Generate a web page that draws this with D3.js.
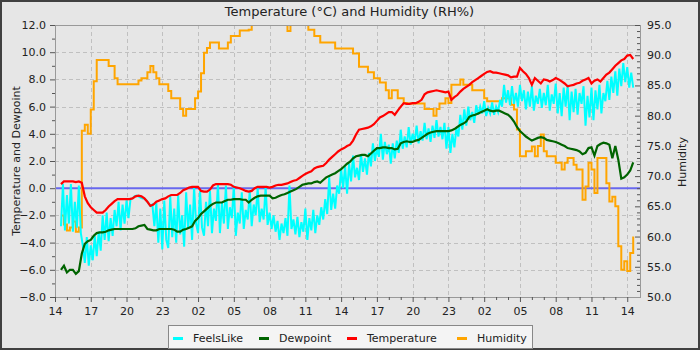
<!DOCTYPE html>
<html><head><meta charset="utf-8">
<script src="https://cdn.jsdelivr.net/npm/d3@7"></script>
<style>
html,body{margin:0;padding:0;background:#e6e6e6;}
svg{display:block;}
</style></head><body>
<svg id="c" width="700" height="350"></svg>
<script>
const chartTitle = "Temperature (°C) and Humidity (RH%)";
const leftAxisTitle = "Temperature and Dewpoint";
const rightAxisTitle = "Humidity";
const xTickHours = [0,3,6,9,12,15,18,21,24,27,30,33,36,39,42,45,48];
const xTickLabels = ["14","17","20","23","02","05","08","11","14","17","20","23","02","05","08","11","14"];
const leftTicks = [-8,-6,-4,-2,0,2,4,6,8,10,12];
const rightTicks = [50,55,60,65,70,75,80,85,90,95];
const seriesNames = ["FeelsLike","Dewpoint","Temperature","Humidity"];
const seriesColors = ["#00ffff","#006400","#ff0000","#ffa500"];

// samples every 15 minutes starting 0.5 h after 14:00
const sampleStartHour = 0.5, sampleStepHours = 0.25;
const temperature = [
 0.3,0.5,0.5,0.5, 0.5,0.45,0.5,0.4, -0.6,-1.1,-1.4,-1.6, -1.8,-1.8,-1.8,-1.6,
 -1.35,-1.15,-0.95,-0.8, -0.8,-0.8,-0.8,-0.8, -0.75,-0.6,-0.55,-0.6, -0.75,-1.0,-1.3,-1.2,
 -1.0,-0.9,-0.8,-0.75, -0.6,-0.5,-0.5,-0.5, -0.35,-0.15,-0.05,0.05, 0.1,0.1,0.1,-0.2,
 -0.25,-0.25,-0.1,0.2, 0.3,0.3,0.3,0.3, 0.3,0.25,0.1,0.05, 0.0,-0.1,-0.2,-0.25,
 -0.2,0.0,0.1,0.1, 0.1,0.1,0.05,0.1, 0.2,0.25,0.25,0.3, 0.35,0.45,0.55,0.6,
 0.75,0.9,1.05,1.15, 1.25,1.45,1.55,1.6, 1.65,1.85,2.1,2.3, 2.5,2.7,2.85,2.95,
 3.1,3.2,3.5,3.95, 4.3,4.35,4.4,4.45, 4.55,4.7,4.95,5.2, 5.3,5.45,5.6,5.6,
 5.4,5.7,6.0,6.25, 6.2,6.2,6.25,6.25, 6.35,6.5,6.9,7.05, 7.1,7.15,7.2,7.15,
 7.1,7.05,7.1,6.5, 6.7,6.85,7.1,7.3, 7.45,7.6,7.8,7.95, 8.1,8.25,8.4,8.55,
 8.6,8.5,8.5,8.45, 8.4,8.35,8.3,8.15, 8.2,8.2,8.85,8.6, 8.4,8.1,7.6,8.1,
 7.9,7.7,8.0,7.95, 7.85,7.95,8.1,8.0, 7.85,7.7,7.5,7.55, 7.6,7.7,7.75,7.9,
 8.0,8.1,7.7,7.9, 8.0,7.85,8.1,8.35, 8.5,8.75,9.0,9.2, 9.4,9.5,9.75,9.8,
 9.5];
const dewpoint = [
 -6.0,-5.7,-6.2,-6.0, -6.0,-6.3,-6.1,-4.8, -4.1,-3.9,-3.8,-3.5, -3.3,-3.25,-3.25,-3.2,
 -3.1,-3.05,-3.0,-3.0, -3.0,-3.0,-3.0,-3.0, -3.0,-2.95,-2.8,-2.75, -2.7,-3.0,-3.05,-3.1,
 -3.1,-3.0,-3.0,-3.0, -3.0,-3.0,-3.05,-3.2, -3.2,-3.05,-3.0,-2.9, -2.8,-2.4,-2.2,-1.9,
 -1.7,-1.5,-1.3,-1.15, -1.05,-1.05,-1.05,-0.95, -0.85,-0.85,-0.8,-0.8, -0.8,-0.85,-0.85,-1.05,
 -0.85,-0.7,-0.6,-0.55, -0.55,-0.55,-0.55,-0.75, -0.7,-0.6,-0.5,-0.45, -0.35,-0.25,-0.15,-0.05,
 0.1,0.25,0.3,0.35, 0.35,0.45,0.5,0.4, 0.6,0.8,0.9,1.0, 1.1,1.25,1.4,1.6,
 1.8,1.95,2.2,2.35, 2.4,2.45,2.45,2.35, 2.55,2.75,2.95,2.95, 3.0,3.0,2.95,2.95,
 2.85,2.9,3.3,3.4, 3.45,3.4,3.4,3.5, 3.55,3.7,3.85,4.0, 4.1,4.15,4.2,4.2,
 4.2,4.2,4.2,4.25, 4.35,4.5,4.65,4.75, 4.9,5.25,5.35,5.4, 5.5,5.6,5.7,5.8,
 5.7,5.65,5.7,5.7, 5.6,5.5,5.4,5.2, 4.9,4.5,4.2,4.0, 3.8,3.65,3.5,3.6,
 3.7,3.75,3.7,3.55, 3.5,3.45,3.4,3.3, 3.2,3.1,2.95,2.9, 2.85,2.8,2.7,2.5,
 2.6,2.95,3.0,2.4, 3.1,3.25,3.35,3.3, 3.2,2.2,3.1,2.1, 0.7,0.8,1.0,1.3,
 1.9];
const humidity = [
 63.5,62.0,61.0,61.5, 62.5,60.8,61.5,77.5, 78.5,77.0,81.0,85.7, 89.2,89.2,89.2,89.2,
 88.2,88.2,86.2,85.2, 85.2,85.2,85.2,85.2, 85.2,85.2,85.8,86.2, 86.2,87.2,88.2,87.2,
 86.2,85.2,85.2,85.2, 84.1,82.9,82.9,82.9, 81.1,80.0,81.1,81.1, 81.1,82.9,84.0,87.0,
 90.4,91.2,92.1,92.1, 92.1,91.1,91.1,91.1, 92.1,93.2,93.2,93.2, 94.1,94.1,94.1,94.2,
 96.5,96.5,96.5,96.5, 96.5,96.5,96.5,96.5, 96.5,96.5,96.5,96.5, 94.0,96.5,96.5,96.5,
 96.5,96.5,96.5,94.2, 94.2,93.2,93.2,92.1, 92.1,92.1,92.1,92.1, 91.1,91.1,91.1,91.1,
 91.1,91.1,90.3,90.3, 88.1,88.1,88.1,87.2, 87.2,86.2,86.2,85.5, 85.5,84.2,82.9,84.2,
 84.2,82.9,82.9,82.1, 82.0,82.0,82.0,82.0, 82.0,82.0,81.1,81.1, 81.1,80.0,81.1,82.0,
 82.0,82.9,82.1,85.1, 85.1,85.1,86.0,85.1, 85.1,85.1,84.2,84.2, 84.2,84.2,82.9,82.4,
 82.4,82.4,82.4,82.4, 82.9,82.9,82.9,81.8, 81.0,77.7,73.3,73.3, 74.1,74.1,74.9,73.3,
 75.0,76.9,74.1,73.3, 73.3,73.3,72.2,72.2, 71.1,72.2,73.0,73.0, 71.9,71.1,71.1,66.1,
 68.3,72.2,71.1,67.2, 73.0,73.0,73.0,68.8, 65.8,66.6,65.0,58.4, 54.5,55.9,54.3,57.3,
 60.0];

// FeelsLike samples every 10 minutes starting 0.5 h after 14:00
const feelsStartHour = 0.5, feelsStepHours = 1/6;
const feelsLike = [
 -2.8,0.3,-3.1,-0.5,-2.6,0.3,   -3.2,-1.0,-2.9,0.2,-3.3,-4.2,  -5.5,-3.6,-5.7,-4.2,-5.3,-3.5,
 -5.0,-3.2,-4.6,-2.0,-3.8,-1.8, -3.9,-2.2,-3.5,-1.6,-2.8,-1.0, -3.1,-1.2,-2.6,-0.9,-2.2,-0.8,
 -0.75,-0.6,-0.55,-0.6,-0.7,-0.75, -0.75,-0.9,-1.1,-1.3,-1.2,-2.8, -1.1,-4.0,-1.5,-4.5,-0.9,-3.8,
 -4.4,-0.6,-3.6,-1.5,-4.0,-0.5, -3.4,-2.0,-4.3,-0.3,-3.0,-1.2, -3.8,0.1,-2.6,-3.3,-0.2,-2.9,
 -3.5,-1.0,-2.8,-0.2,-3.3,-1.5, -2.4,0.3,-3.3,-1.1,-2.6,0.2,  -3.0,-1.4,-2.2,0.2,-3.5,-1.8,
 -2.6,-0.3,-3.0,-1.6,-2.3,-0.2, -2.8,-1.2,-2.0,0.0,-2.5,-1.5, -2.3,0.1,-2.7,-1.8,-3.0,-2.0,
 -3.2,-2.4,-3.8,-2.6,-3.3,-2.2, -3.5,0.2,-3.0,-2.3,-3.4,-2.1, -3.6,-2.5,-3.2,-1.5,-3.8,-2.2,
 -3.1,-1.6,-3.3,-2.0,-2.7,-1.4, -2.3,-0.8,-1.9,0.8,-1.6,-0.4,  -1.5,0.2,-0.4,1.4,0.0,1.6,
 -0.4,1.8,0.5,2.4,0.8,1.5,      0.6,2.5,1.2,2.2,1.0,2.6,       1.6,3.3,2.0,3.0,2.3,4.0,
 2.1,3.4,2.5,3.2,1.8,3.3,       2.2,3.5,2.6,4.3,2.9,3.8,       3.0,4.5,3.2,4.0,3.4,4.6,
 3.3,4.2,3.5,4.8,3.6,4.4,       3.4,4.6,3.7,5.0,3.8,4.5,       3.6,4.8,2.9,4.5,2.6,4.0,
 3.0,4.4,3.8,5.4,4.3,5.8,       4.6,6.0,5.0,5.6,4.8,6.1,       5.4,6.0,5.5,6.4,5.3,5.9,
 5.5,6.3,5.4,6.0,5.6,6.5,       6.0,7.6,6.3,7.2,6.1,7.5,       6.2,7.0,6.0,7.6,6.4,7.2,
 5.8,7.1,6.0,7.5,5.7,6.8,       6.2,7.3,5.9,7.0,6.1,7.6,       5.7,6.9,6.2,7.7,5.5,7.0,
 5.3,7.4,6.0,7.6,5.0,7.1,       5.6,7.3,5.4,7.0,6.2,7.5,       4.6,6.8,5.2,7.4,5.0,7.2,
 5.8,7.6,5.5,7.0,6.4,7.9,       6.5,8.2,7.0,8.6,6.8,8.8,       7.5,9.2,7.8,8.9,7.4,8.5,
 7.4];

const W = 700, H = 350;
const M = {left:55, right:640, top:25, bottom:297};
const FONT = "'DejaVu Sans', Verdana, sans-serif";
const svg = d3.select("#c");

svg.append("rect").attr("x",1).attr("y",1).attr("width",W-2).attr("height",H-2)
  .attr("fill","#e6e6e6").attr("stroke","#404040").attr("stroke-width",2);

const x = d3.scaleLinear().domain([0,49.07]).range([M.left,M.right]);
const yL = d3.scaleLinear().domain([-8,12]).range([M.bottom,M.top]);
const yR = d3.scaleLinear().domain([50,95]).range([M.bottom,M.top]);

svg.append("defs").append("clipPath").attr("id","clip").append("rect")
  .attr("x",M.left).attr("y",M.top).attr("width",M.right-M.left).attr("height",M.bottom-M.top);

// grid
const grid = svg.append("g").attr("stroke","#c0c0c0").attr("stroke-width",1).attr("stroke-dasharray","4,3");
grid.selectAll("line.v").data(xTickHours.slice(1)).enter().append("line")
  .attr("x1",d=>Math.round(x(d))+0.5).attr("x2",d=>Math.round(x(d))+0.5)
  .attr("y1",M.top).attr("y2",M.bottom);
grid.selectAll("line.h").data(leftTicks.slice(1,-1)).enter().append("line")
  .attr("y1",d=>Math.round(yL(d))+0.5).attr("y2",d=>Math.round(yL(d))+0.5)
  .attr("x1",M.left).attr("x2",M.right);

// zero marker
svg.append("line").attr("x1",M.left).attr("x2",M.right)
  .attr("y1",yL(0)).attr("y2",yL(0)).attr("stroke","#6868ee").attr("stroke-width",2);

const plot = svg.append("g").attr("clip-path","url(#clip)");
function lineFor(start, step, scale, curve){
  return d3.line().x((d,i)=>x(start+i*step)).y(d=>scale(d)).curve(curve||d3.curveLinear);
}
plot.append("path").datum(humidity).attr("fill","none").attr("stroke",seriesColors[3]).attr("stroke-width",2)
  .attr("d",lineFor(sampleStartHour,sampleStepHours,yR,d3.curveStepAfter));
plot.append("path").datum(feelsLike).attr("fill","none").attr("stroke",seriesColors[0]).attr("stroke-width",2)
  .attr("d",lineFor(feelsStartHour,feelsStepHours,yL));
plot.append("path").datum(dewpoint).attr("fill","none").attr("stroke",seriesColors[1]).attr("stroke-width",2.2)
  .attr("d",lineFor(sampleStartHour,sampleStepHours,yL));
plot.append("path").datum(temperature).attr("fill","none").attr("stroke",seriesColors[2]).attr("stroke-width",2.2)
  .attr("d",lineFor(sampleStartHour,sampleStepHours,yL));

// plot border
svg.append("rect").attr("x",M.left+0.5).attr("y",M.top+0.5)
  .attr("width",M.right-M.left).attr("height",M.bottom-M.top)
  .attr("fill","none").attr("stroke","#999");

function styleAxis(g){
  g.attr("font-family",FONT).attr("font-size",11);
  g.selectAll("text").attr("fill","#222");
  g.selectAll("line").attr("stroke","#555");
  g.select(".domain").attr("stroke","#999");
}
// left axis
svg.append("g").attr("transform",`translate(${M.left},0)`)
  .call(d3.axisLeft(yL).tickValues(leftTicks).tickFormat(d3.format(".1f")).tickSizeInner(5).tickSizeOuter(0).tickPadding(4))
  .call(styleAxis);
svg.append("g").attr("transform",`translate(${M.left},0)`)
  .call(d3.axisLeft(yL).tickValues(d3.range(-7,12,2)).tickFormat("").tickSize(3))
  .call(g=>{g.select(".domain").remove(); g.selectAll("line").attr("stroke","#555");});
// right axis
svg.append("g").attr("transform",`translate(${M.right},0)`)
  .call(d3.axisRight(yR).tickValues(rightTicks).tickFormat(d3.format(".1f")).tickSizeInner(-5).tickSizeOuter(0).tickPadding(7))
  .call(styleAxis);
svg.append("g").attr("transform",`translate(${M.right},0)`)
  .call(d3.axisRight(yR).tickValues(d3.range(51,95).filter(v=>v%5)).tickFormat("").tickSize(-3))
  .call(g=>{g.select(".domain").remove(); g.selectAll("line").attr("stroke","#555");});
// bottom axis
svg.append("g").attr("transform",`translate(0,${M.bottom})`)
  .call(d3.axisBottom(x).tickValues(xTickHours).tickFormat((d,i)=>xTickLabels[i]).tickSizeInner(5).tickSizeOuter(0).tickPadding(5))
  .call(styleAxis);
svg.append("g").attr("transform",`translate(0,${M.bottom})`)
  .call(d3.axisBottom(x).tickValues(d3.range(1,49).filter(h=>h%3)).tickFormat("").tickSize(3))
  .call(g=>{g.select(".domain").remove(); g.selectAll("line").attr("stroke","#555");});

// titles
svg.append("text").attr("x",(M.left+M.right)/2+2).attr("y",15.5).attr("text-anchor","middle")
  .attr("font-family",FONT).attr("font-size",13).attr("fill","#222").text(chartTitle);
svg.append("text").attr("transform",`translate(20,161) rotate(-90)`).attr("text-anchor","middle")
  .attr("font-family",FONT).attr("font-size",11).attr("fill","#222").text(leftAxisTitle);
svg.append("text").attr("transform",`translate(686,162) rotate(-90)`).attr("text-anchor","middle")
  .attr("font-family",FONT).attr("font-size",11).attr("fill","#222").text(rightAxisTitle);

// legend
const lg = svg.append("g");
lg.append("rect").attr("x",168.5).attr("y",325.5).attr("width",364).attr("height",23)
  .attr("fill","#f4f4f4").attr("stroke","#888");
const legendX = [173,259,347,457];
seriesNames.forEach((n,i)=>{
  lg.append("rect").attr("x",legendX[i]).attr("y",337).attr("width",10).attr("height",3).attr("fill",seriesColors[i]);
  lg.append("text").attr("x",legendX[i]+20).attr("y",341.5).attr("font-family",FONT).attr("font-size",11)
    .attr("fill","#222").text(n);
});
</script>
</body></html>
